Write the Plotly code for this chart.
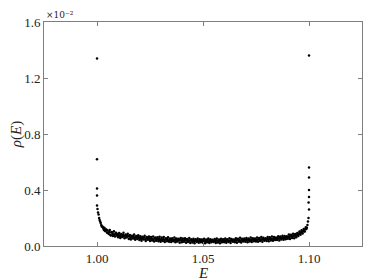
import plotly.graph_objects as go

# Energy grid (E) and density of states rho(E) in units of 1e-2
E = [
    1.0000, 1.0005, 1.0010, 1.0015, 1.0020, 1.0025, 1.0030, 1.0035, 1.0040, 1.0045,
    1.0050, 1.0055, 1.0060, 1.0065, 1.0070, 1.0075, 1.0080, 1.0085, 1.0090, 1.0095,
    1.0100, 1.0105, 1.0110, 1.0115, 1.0120, 1.0125, 1.0130, 1.0135, 1.0140, 1.0145,
    1.0150, 1.0155, 1.0160, 1.0165, 1.0170, 1.0175, 1.0180, 1.0185, 1.0190, 1.0195,
    1.0200, 1.0205, 1.0210, 1.0215, 1.0220, 1.0225, 1.0230, 1.0235, 1.0240, 1.0245,
    1.0250, 1.0255, 1.0260, 1.0265, 1.0270, 1.0275, 1.0280, 1.0285, 1.0290, 1.0295,
    1.0300, 1.0305, 1.0310, 1.0315, 1.0320, 1.0325, 1.0330, 1.0335, 1.0340, 1.0345,
    1.0350, 1.0355, 1.0360, 1.0365, 1.0370, 1.0375, 1.0380, 1.0385, 1.0390, 1.0395,
    1.0400, 1.0405, 1.0410, 1.0415, 1.0420, 1.0425, 1.0430, 1.0435, 1.0440, 1.0445,
    1.0450, 1.0455, 1.0460, 1.0465, 1.0470, 1.0475, 1.0480, 1.0485, 1.0490, 1.0495,
    1.0500, 1.0505, 1.0510, 1.0515, 1.0520, 1.0525, 1.0530, 1.0535, 1.0540, 1.0545,
    1.0550, 1.0555, 1.0560, 1.0565, 1.0570, 1.0575, 1.0580, 1.0585, 1.0590, 1.0595,
    1.0600, 1.0605, 1.0610, 1.0615, 1.0620, 1.0625, 1.0630, 1.0635, 1.0640, 1.0645,
    1.0650, 1.0655, 1.0660, 1.0665, 1.0670, 1.0675, 1.0680, 1.0685, 1.0690, 1.0695,
    1.0700, 1.0705, 1.0710, 1.0715, 1.0720, 1.0725, 1.0730, 1.0735, 1.0740, 1.0745,
    1.0750, 1.0755, 1.0760, 1.0765, 1.0770, 1.0775, 1.0780, 1.0785, 1.0790, 1.0795,
    1.0800, 1.0805, 1.0810, 1.0815, 1.0820, 1.0825, 1.0830, 1.0835, 1.0840, 1.0845,
    1.0850, 1.0855, 1.0860, 1.0865, 1.0870, 1.0875, 1.0880, 1.0885, 1.0890, 1.0895,
    1.0900, 1.0905, 1.0910, 1.0915, 1.0920, 1.0925, 1.0930, 1.0935, 1.0940, 1.0945,
    1.0950, 1.0955, 1.0960, 1.0965, 1.0970, 1.0975, 1.0980, 1.0985, 1.0990, 1.0995,
    1.1000,
]
rho = [
    0.290, 0.240, 0.200, 0.175, 0.150, 0.140, 0.125, 0.130, 0.105, 0.115,
    0.110, 0.085, 0.115, 0.075, 0.100, 0.072, 0.105, 0.068, 0.094, 0.074,
    0.062, 0.092, 0.058, 0.086, 0.064, 0.094, 0.056, 0.082, 0.060, 0.088,
    0.050, 0.078, 0.046, 0.074, 0.054, 0.082, 0.044, 0.072, 0.050, 0.076,
    0.042, 0.070, 0.038, 0.066, 0.046, 0.074, 0.036, 0.064, 0.044, 0.068,
    0.036, 0.064, 0.040, 0.068, 0.032, 0.060, 0.038, 0.062, 0.034, 0.066,
    0.030, 0.060, 0.036, 0.064, 0.028, 0.056, 0.034, 0.062, 0.031, 0.054,
    0.028, 0.056, 0.034, 0.060, 0.026, 0.054, 0.032, 0.052, 0.024, 0.058,
    0.026, 0.054, 0.030, 0.056, 0.024, 0.050, 0.028, 0.058, 0.022, 0.048,
    0.025, 0.052, 0.020, 0.048, 0.028, 0.054, 0.023, 0.049, 0.026, 0.046,
    0.024, 0.051, 0.020, 0.047, 0.027, 0.054, 0.022, 0.048, 0.026, 0.045,
    0.028, 0.050, 0.021, 0.053, 0.025, 0.047, 0.020, 0.051, 0.027, 0.048,
    0.026, 0.054, 0.023, 0.049, 0.029, 0.056, 0.021, 0.050, 0.030, 0.047,
    0.027, 0.055, 0.024, 0.052, 0.030, 0.059, 0.025, 0.051, 0.032, 0.054,
    0.030, 0.058, 0.026, 0.054, 0.033, 0.061, 0.028, 0.056, 0.034, 0.053,
    0.032, 0.060, 0.030, 0.057, 0.036, 0.064, 0.031, 0.059, 0.037, 0.056,
    0.036, 0.064, 0.034, 0.062, 0.040, 0.068, 0.037, 0.064, 0.042, 0.061,
    0.042, 0.070, 0.040, 0.068, 0.046, 0.074, 0.044, 0.072, 0.048, 0.070,
    0.052, 0.082, 0.050, 0.080, 0.058, 0.088, 0.056, 0.086, 0.062, 0.092,
    0.072, 0.104, 0.080, 0.112, 0.090, 0.122, 0.104, 0.134, 0.130, 0.175,
    0.260,
]
# second, interleaved set of samples (half-step offset)
E2 = [
    1.00025, 1.00075, 1.00125, 1.00175, 1.00225, 1.00275, 1.00325, 1.00375, 1.00425, 1.00475,
    1.00525, 1.00575, 1.00625, 1.00675, 1.00725, 1.00775, 1.00825, 1.00875, 1.00925, 1.00975,
    1.01025, 1.01075, 1.01125, 1.01175, 1.01225, 1.01275, 1.01325, 1.01375, 1.01425, 1.01475,
    1.01525, 1.01575, 1.01625, 1.01675, 1.01725, 1.01775, 1.01825, 1.01875, 1.01925, 1.01975,
    1.02025, 1.02075, 1.02125, 1.02175, 1.02225, 1.02275, 1.02325, 1.02375, 1.02425, 1.02475,
    1.02525, 1.02575, 1.02625, 1.02675, 1.02725, 1.02775, 1.02825, 1.02875, 1.02925, 1.02975,
    1.03025, 1.03075, 1.03125, 1.03175, 1.03225, 1.03275, 1.03325, 1.03375, 1.03425, 1.03475,
    1.03525, 1.03575, 1.03625, 1.03675, 1.03725, 1.03775, 1.03825, 1.03875, 1.03925, 1.03975,
    1.04025, 1.04075, 1.04125, 1.04175, 1.04225, 1.04275, 1.04325, 1.04375, 1.04425, 1.04475,
    1.04525, 1.04575, 1.04625, 1.04675, 1.04725, 1.04775, 1.04825, 1.04875, 1.04925, 1.04975,
    1.05025, 1.05075, 1.05125, 1.05175, 1.05225, 1.05275, 1.05325, 1.05375, 1.05425, 1.05475,
    1.05525, 1.05575, 1.05625, 1.05675, 1.05725, 1.05775, 1.05825, 1.05875, 1.05925, 1.05975,
    1.06025, 1.06075, 1.06125, 1.06175, 1.06225, 1.06275, 1.06325, 1.06375, 1.06425, 1.06475,
    1.06525, 1.06575, 1.06625, 1.06675, 1.06725, 1.06775, 1.06825, 1.06875, 1.06925, 1.06975,
    1.07025, 1.07075, 1.07125, 1.07175, 1.07225, 1.07275, 1.07325, 1.07375, 1.07425, 1.07475,
    1.07525, 1.07575, 1.07625, 1.07675, 1.07725, 1.07775, 1.07825, 1.07875, 1.07925, 1.07975,
    1.08025, 1.08075, 1.08125, 1.08175, 1.08225, 1.08275, 1.08325, 1.08375, 1.08425, 1.08475,
    1.08525, 1.08575, 1.08625, 1.08675, 1.08725, 1.08775, 1.08825, 1.08875, 1.08925, 1.08975,
    1.09025, 1.09075, 1.09125, 1.09175, 1.09225, 1.09275, 1.09325, 1.09375, 1.09425, 1.09475,
    1.09525, 1.09575, 1.09625, 1.09675, 1.09725, 1.09775, 1.09825, 1.09875, 1.09925, 1.09975,
]
rho2 = [
    0.265, 0.225, 0.185, 0.165, 0.140, 0.135, 0.115, 0.110, 0.120, 0.095,
    0.095, 0.100, 0.080, 0.098, 0.086, 0.090, 0.078, 0.088, 0.080, 0.085,
    0.078, 0.070, 0.080, 0.068, 0.079, 0.070, 0.074, 0.066, 0.078, 0.070,
    0.068, 0.058, 0.066, 0.060, 0.070, 0.056, 0.064, 0.058, 0.068, 0.057,
    0.060, 0.050, 0.058, 0.052, 0.062, 0.048, 0.056, 0.050, 0.059, 0.051,
    0.054, 0.046, 0.052, 0.044, 0.056, 0.042, 0.050, 0.047, 0.053, 0.043,
    0.048, 0.042, 0.050, 0.040, 0.046, 0.044, 0.052, 0.039, 0.045, 0.043,
    0.046, 0.038, 0.044, 0.041, 0.048, 0.036, 0.043, 0.040, 0.047, 0.037,
    0.044, 0.036, 0.042, 0.039, 0.045, 0.034, 0.041, 0.038, 0.043, 0.035,
    0.041, 0.034, 0.040, 0.037, 0.043, 0.033, 0.039, 0.036, 0.042, 0.032,
    0.040, 0.033, 0.038, 0.036, 0.042, 0.031, 0.039, 0.035, 0.041, 0.034,
    0.039, 0.035, 0.042, 0.032, 0.038, 0.036, 0.041, 0.033, 0.040, 0.034,
    0.041, 0.035, 0.043, 0.036, 0.040, 0.034, 0.044, 0.037, 0.039, 0.036,
    0.042, 0.037, 0.045, 0.038, 0.043, 0.036, 0.046, 0.039, 0.044, 0.038,
    0.044, 0.039, 0.047, 0.040, 0.045, 0.041, 0.048, 0.042, 0.046, 0.040,
    0.047, 0.042, 0.050, 0.043, 0.048, 0.044, 0.051, 0.045, 0.049, 0.046,
    0.051, 0.046, 0.054, 0.048, 0.052, 0.047, 0.056, 0.050, 0.055, 0.049,
    0.057, 0.052, 0.060, 0.054, 0.059, 0.055, 0.063, 0.058, 0.062, 0.060,
    0.068, 0.064, 0.072, 0.066, 0.074, 0.070, 0.078, 0.074, 0.082, 0.078,
    0.090, 0.088, 0.098, 0.096, 0.108, 0.106, 0.120, 0.122, 0.150, 0.200,
]
# isolated points at the band edges
spike_E = [1.0000, 1.0000, 1.0000, 1.0000, 1.1000, 1.1000, 1.1000, 1.1000, 1.1000, 1.0998]
spike_rho = [1.34, 0.62, 0.41, 0.36, 1.36, 0.56, 0.49, 0.40, 0.35, 0.31]

x_ticks = [1.00, 1.05, 1.10]
x_labels = ["1.00", "1.05", "1.10"]
y_ticks = [0.0, 0.4, 0.8, 1.2, 1.6]
y_labels = ["0.0", "0.4", "0.8", "1.2", "1.6"]

fig = go.Figure()
for xs, ys in ((E, rho), (E2, rho2), (spike_E, spike_rho)):
    fig.add_trace(go.Scatter(x=xs, y=ys, mode="markers",
                             marker=dict(size=2.5, color="black", line=dict(width=0)),
                             showlegend=False))

axis_common = dict(showline=True, linecolor="#7f7f7f", linewidth=1, mirror="ticks",
                   ticks="inside", ticklen=4, tickcolor="#7f7f7f", showgrid=False,
                   zeroline=False, automargin=False,
                   tickfont=dict(family="Liberation Serif", size=13, color="#222"))

# the page body adds an 8px offset, so the figure is sized to fit the window
fig.update_layout(
    width=366, height=272,
    margin=dict(l=36, r=12, t=14, b=34),
    paper_bgcolor="white", plot_bgcolor="white",
    xaxis=dict(range=[0.975, 1.125], tickvals=x_ticks, ticktext=x_labels, ticklabelstandoff=0,
               **axis_common),
    yaxis=dict(range=[0, 1.6], tickvals=y_ticks, ticktext=y_labels,
               title=dict(text="<i>ρ</i>(<i>E</i>)", standoff=4,
                          font=dict(family="Liberation Serif", size=15, color="#222")),
               **axis_common),
    annotations=[
        dict(text="×10⁻²", x=0, y=1, xref="paper", yref="paper",
             xanchor="left", yanchor="middle", yshift=7, showarrow=False,
             font=dict(family="DejaVu Serif", size=9, color="#222")),
        dict(text="<i>E</i>", x=0.5, y=0, xref="paper", yref="paper",
             xanchor="center", yanchor="top", yshift=-17, showarrow=False,
             font=dict(family="Liberation Serif", size=15, color="#222")),
    ],
)
fig.write_html("out.html")
